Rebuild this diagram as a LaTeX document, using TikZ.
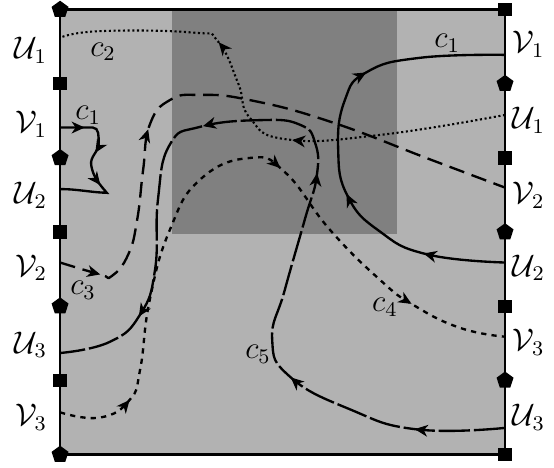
\documentclass[tikz,border=0pt]{standalone}
\usepackage{amsmath}
\usetikzlibrary{shapes.geometric,arrows.meta,decorations.markings}

\begin{document}
\begin{tikzpicture}[x=1cm, y=1cm,
    pent/.style={regular polygon, regular polygon sides=5, fill=black, inner sep=0pt, minimum size=0.24cm},
    sqr/.style={rectangle, fill=black, inner sep=0pt, minimum size=0.18cm},
    lab/.style={inner sep=0pt, font=\large},
    arrowat/.style={postaction={decorate, decoration={markings,
        mark=at position #1 with {\arrow{Stealth[length=5pt,width=4.5pt,inset=1.5pt]}}}}},
    pathA/.style={line width=0.9pt},
    pathB/.style={line width=0.8pt, densely dotted},
    pathC/.style={line width=0.9pt, dash pattern=on 6pt off 3pt},
    pathD/.style={line width=0.9pt, dash pattern=on 2pt off 2pt},
    pathE/.style={line width=0.9pt, dash pattern=on 12pt off 1.5pt}]

    \newcommand{\boxSize}{6}

    \useasboundingbox (-0.81,-0.175) rectangle (6.66,6.13);

    \fill[black!30] (0,0) rectangle (\boxSize,\boxSize);
    \fill[black!50] (1.51,2.98) rectangle (4.54,\boxSize);

    % end points of the curves on both sides
    \coordinate (lU1) at (0,5.62);
    \coordinate (lV1) at (0,4.41);
    \coordinate (lU2) at (0,3.58);
    \coordinate (lV2) at (0,2.59);
    \coordinate (lU3) at (0,1.37);
    \coordinate (lV3) at (0,0.57);
    \coordinate (rV1) at (\boxSize,5.39);
    \coordinate (rU1) at (\boxSize,4.58);
    \coordinate (rV2) at (\boxSize,3.60);
    \coordinate (rU2) at (\boxSize,2.59);
    \coordinate (rV3) at (\boxSize,1.59);
    \coordinate (rU3) at (\boxSize,0.36);

    \draw[pathB, arrowat=0.42, arrowat=0.68] plot[smooth, tension=0.8] coordinates {(rU1) (4.31,4.31) (3.06,4.25) (2.56,4.54) (2.40,5.01) (2.13,5.57) (1.80,5.69) (0.54,5.71) (lU1)}; % c2
    \draw[pathA, arrowat=0.18, arrowat=0.40, arrowat=0.69] plot[smooth, tension=0.8] coordinates {(rU2) (4.95,2.70) (4.31,3.01) (3.88,3.48) (3.75,4.11) (3.84,4.78) (4.14,5.16) (4.85,5.35) (rV1)}; % c1 right
    \draw[pathA, arrowat=0.16, arrowat=0.40, arrowat=0.63] (lV1) -- (0.44,4.41) to[out=0,in=90] (0.52,4.20) to[out=-90,in=100] (0.42,3.90) to[out=-80,in=130] (0.63,3.53) to[out=178,in=0] (lU2); % c1 left
    \draw[pathC, arrowat=0.07, arrowat=0.35] plot[smooth, tension=0.8] coordinates {(lV2) (0.54,2.43) (0.70,2.41) (0.92,2.70) (1.04,3.17) (1.12,3.84) (1.21,4.45) (1.48,4.78) (1.89,4.85) (2.56,4.78) (3.64,4.49) (4.99,3.98) (rV2)}; % c3
    \draw[pathD, arrowat=0.11, arrowat=0.58, arrowat=0.855] plot[smooth, tension=0.8] coordinates {(lV3) (0.54,0.50) (0.94,0.74) (1.08,1.15) (1.21,2.09) (1.48,3.03) (1.89,3.71) (2.56,4.00) (3.03,3.81) (3.64,3.03) (4.31,2.36) (4.76,2.02) (5.39,1.71) (rV3)}; % c4
    \draw[pathE, arrowat=0.10, arrowat=0.25, arrowat=0.49, arrowat=0.66, arrowat=0.90] plot[smooth, tension=0.8] coordinates {(rU3) (4.81,0.34) (3.91,0.61) (3.10,1.05) (2.86,1.55) (3.03,2.22) (3.30,3.17) (3.46,3.75) (3.44,4.20) (3.23,4.45) (2.70,4.51) (1.89,4.42) (1.48,4.18) (1.32,3.44) (1.28,2.49) (1.08,1.89) (0.67,1.52) (lU3)}; % c5

    \draw[line width=1.2pt] (0,\boxSize) -- (\boxSize,\boxSize);
    \draw[line width=1.2pt] (0,0) -- (\boxSize,0);
    \draw[line width=0.8pt] (0,0) -- (0,\boxSize);
    \draw[line width=0.8pt] (\boxSize,0) -- (\boxSize,\boxSize);

    \foreach \y in {0,2,4,6} {
        \node[pent] (L\y) at (0,\y) {};
        \node[sqr] (R\y) at (\boxSize,\y) {};
    }
    \foreach \y in {1,3,5} {
        \node[sqr] (L\y) at (0,\y) {};
        \node[pent] (R\y) at (\boxSize,\y) {};
    }

    \node[lab, anchor=east] (labLU1) at (-0.17,5.45) {$\mathcal{U}_1$};
    \node[lab, anchor=east] (labLV1) at (-0.17,4.45) {$\mathcal{V}_1$};
    \node[lab, anchor=east] (labLU2) at (-0.17,3.50) {$\mathcal{U}_2$};
    \node[lab, anchor=east] (labLV2) at (-0.17,2.52) {$\mathcal{V}_2$};
    \node[lab, anchor=east] (labLU3) at (-0.17,1.48) {$\mathcal{U}_3$};
    \node[lab, anchor=east] (labLV3) at (-0.17,0.50) {$\mathcal{V}_3$};
    \node[lab, anchor=west] (labRV1) at (6.10,5.53) {$\mathcal{V}_1$};
    \node[lab, anchor=west] (labRU1) at (6.10,4.51) {$\mathcal{U}_1$};
    \node[lab, anchor=west] (labRV2) at (6.10,3.50) {$\mathcal{V}_2$};
    \node[lab, anchor=west] (labRU2) at (6.10,2.52) {$\mathcal{U}_2$};
    \node[lab, anchor=west] (labRV3) at (6.10,1.51) {$\mathcal{V}_3$};
    \node[lab, anchor=west] (labRU3) at (6.10,0.50) {$\mathcal{U}_3$};

    \node[lab] (labC2) at (0.58,5.43) {$c_2$};
    \node[lab] (labC1a) at (0.38,4.58) {$c_1$};
    \node[lab] (labC1b) at (5.22,5.55) {$c_1$};
    \node[lab] (labC3) at (0.31,2.22) {$c_3$};
    \node[lab] (labC4) at (4.38,1.99) {$c_4$};
    \node[lab] (labC5) at (2.67,1.35) {$c_5$};

\end{tikzpicture}
\end{document}
